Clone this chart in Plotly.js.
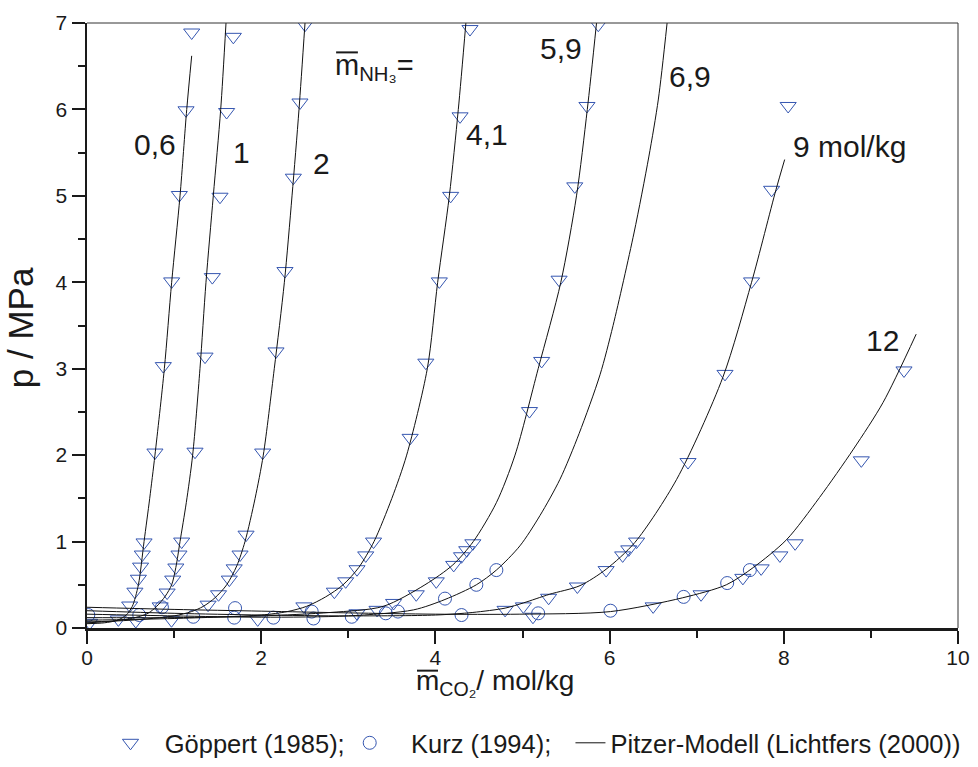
<!DOCTYPE html>
<html>
<head>
<meta charset="utf-8">
<script src="https://cdn.plot.ly/plotly-3.0.1.min.js"></script>
<style>html,body{margin:0;padding:0;background:#fff}#chart{width:978px;height:767px}</style>
</head>
<body>
<div id="chart"></div>
<script>
// ---- Göppert (1985) measurements, per NH3 molality ----
const gX06 = [0.03, 0.36, 0.56, 0.49, 0.55, 0.59, 0.615, 0.635, 0.655, 0.78, 0.876, 0.972, 1.06, 1.137, 1.202];
const gP06 = [0.06, 0.10, 0.08, 0.26, 0.42, 0.57, 0.71, 0.85, 0.99, 2.03, 3.03, 4.01, 5.01, 5.99, 6.89];
const gX1 = [0.97, 0.84, 0.92, 0.984, 1.02, 1.056, 1.087, 1.24, 1.355, 1.439, 1.527, 1.603, 1.68];
const gP1 = [0.09, 0.25, 0.41, 0.56, 0.70, 0.85, 1.0, 2.04, 3.14, 4.06, 4.99, 5.97, 6.84];
const gX2 = [1.96, 1.39, 1.51, 1.634, 1.69, 1.757, 1.826, 2.017, 2.17, 2.273, 2.369, 2.445, 2.503];
const gP2 = [0.10, 0.27, 0.39, 0.56, 0.69, 0.85, 1.08, 2.03, 3.2, 4.13, 5.21, 6.08, 6.98];
const gX41 = [2.49, 2.84, 2.97, 3.10, 3.20, 3.29, 3.71, 3.89, 4.045, 4.175, 4.283, 4.397];
const gP41 = [0.25, 0.42, 0.54, 0.68, 0.84, 1.0, 2.2, 3.07, 4.01, 5.0, 5.92, 6.93];
const gX59 = [3.10, 3.33, 3.52, 3.78, 4.01, 4.21, 4.30, 4.36, 4.43, 5.08, 5.22, 5.42, 5.60, 5.74, 5.87];
const gP59 = [0.17, 0.21, 0.29, 0.39, 0.54, 0.73, 0.83, 0.90, 0.98, 2.51, 3.09, 4.03, 5.11, 6.04, 6.98];
const gX9 = [4.80, 5.01, 5.12, 5.30, 5.63, 5.96, 6.15, 6.22, 6.31, 6.90, 7.325, 7.63, 7.86, 8.05];
const gP9 = [0.21, 0.25, 0.13, 0.35, 0.48, 0.67, 0.84, 0.91, 1.0, 1.92, 2.94, 4.01, 5.07, 6.04];
const gX12 = [6.50, 7.05, 7.53, 7.74, 7.955, 8.13, 8.89, 9.38];
const gP12 = [0.25, 0.39, 0.58, 0.69, 0.84, 0.98, 1.94, 2.98];

// ---- Kurz (1994) measurements ----
const kX = [0.015, 0.60, 0.86, 1.22, 1.70, 1.69, 2.14, 2.58, 2.60, 3.04, 3.43, 3.57, 4.30, 4.11, 4.47, 4.70, 5.18, 6.01, 6.85, 7.35, 7.61];
const kP = [0.15, 0.15, 0.24, 0.13, 0.23, 0.12, 0.12, 0.19, 0.11, 0.13, 0.17, 0.19, 0.15, 0.34, 0.50, 0.67, 0.17, 0.20, 0.36, 0.52, 0.67];

// ---- Pitzer-Modell (Lichtfers 2000) curves ----
const mX06 = [0, 0.2, 0.35, 0.45, 0.52, 0.59, 0.655, 0.72, 0.78, 0.888, 0.972, 1.068, 1.145, 1.202];
const mP06 = [0.05, 0.06, 0.09, 0.15, 0.25, 0.5, 1.0, 1.5, 2.0, 3.0, 4.0, 5.0, 6.0, 6.62];
const mX1 = [0, 0.3, 0.55, 0.7, 0.8, 0.9, 0.972, 1.02, 1.068, 1.14, 1.213, 1.297, 1.366, 1.45, 1.535, 1.596];
const mP1 = [0.06, 0.08, 0.12, 0.17, 0.25, 0.37, 0.5, 0.7, 1.0, 1.45, 2.0, 3.0, 4.0, 5.0, 6.0, 7.0];
const mX2 = [0, 0.5, 1.0, 1.2, 1.335, 1.47, 1.604, 1.72, 1.814, 1.93, 2.024, 2.15, 2.266, 2.354, 2.434, 2.503];
const mP2 = [0.07, 0.09, 0.14, 0.19, 0.25, 0.35, 0.5, 0.72, 1.0, 1.5, 2.0, 3.0, 4.0, 5.0, 6.0, 7.0];
const mX41 = [0, 1.0, 2.0, 2.3, 2.52, 2.74, 2.94, 3.12, 3.295, 3.5, 3.67, 3.907, 4.026, 4.16, 4.263, 4.35];
const mP41 = [0.09, 0.11, 0.15, 0.19, 0.25, 0.36, 0.5, 0.7, 1.0, 1.5, 2.0, 3.0, 4.0, 5.0, 6.0, 7.0];
const mX59 = [0, 1.0, 2.0, 2.8, 3.4, 3.88, 4.2, 4.435, 4.7, 4.914, 5.18, 5.44, 5.62, 5.744, 5.85];
const mP59 = [0.12, 0.12, 0.14, 0.18, 0.25, 0.5, 0.73, 1.0, 1.45, 2.0, 3.0, 4.0, 5.0, 6.0, 7.0];
const mX69 = [0, 1, 2, 3, 3.75, 4.11, 4.47, 4.70, 4.97, 5.2, 5.43, 5.65, 5.89, 6.04, 6.28, 6.45, 6.56, 6.66];
const mP69 = [0.16, 0.14, 0.125, 0.14, 0.21, 0.33, 0.5, 0.67, 0.95, 1.3, 1.72, 2.25, 2.93, 3.5, 4.57, 5.45, 6.12, 7.0];
const mX9 = [0, 1, 2, 3, 4, 4.43, 4.80, 5.01, 5.31, 5.66, 5.96, 6.29, 6.77, 7.3, 7.63, 7.91, 8.01];
const mP9 = [0.2, 0.17, 0.15, 0.14, 0.15, 0.18, 0.23, 0.29, 0.39, 0.49, 0.68, 0.99, 1.72, 2.9, 4.0, 5.07, 5.42];
const mX12 = [0, 1, 2, 3, 4, 4.97, 6.01, 6.84, 7.34, 7.65, 8.03, 8.41, 8.8, 9.14, 9.52];
const mP12 = [0.24, 0.215, 0.195, 0.175, 0.16, 0.16, 0.19, 0.35, 0.50, 0.70, 1.02, 1.51, 2.07, 2.61, 3.40];

// ---- text ----
const curveLabels = ['0,6', '1', '2', '4,1', '5,9', '6,9', '9 mol/kg', '12'];
const labelX = [0.78, 1.77, 2.69, 4.59, 5.44, 6.92, 8.75, 9.13];
const labelP = [5.6, 5.5, 5.38, 5.71, 6.70, 6.38, 5.57, 3.33];
const xTicks = [0, 2, 4, 6, 8, 10];
const yTicks = [0, 1, 2, 3, 4, 5, 6, 7];
const legendNames = ['\u00a0\u00a0Göppert (1985);', '\u00a0\u00a0\u00a0Kurz (1994);\u00a0\u00a0', 'Pitzer-Modell (Lichtfers (2000))'];
const xTitle = 'm<sub>CO\u2082</sub>/ mol/kg';
const yTitle = 'p / MPa';
const nh3Label = 'm<sub>NH\u2083</sub>=';

const BLUE = '#3556b0';
const INK = '#1a1a1a';
const FONT = 'Liberation Sans, Arial, sans-serif';

const gX = [].concat(gX06, gX1, gX2, gX41, gX59, gX9, gX12);
const gP = [].concat(gP06, gP1, gP2, gP41, gP59, gP9, gP12);

const modelX = [mX06, mX1, mX2, mX41, mX59, mX69, mX9, mX12];
const modelP = [mP06, mP1, mP2, mP41, mP59, mP69, mP9, mP12];

const traces = [];
traces.push({
  x: gX, y: gP, type: 'scatter', mode: 'markers', name: legendNames[0],
  marker: {symbol: 'triangle-down-open', size: 14, color: BLUE, line: {width: 1, color: BLUE}}
});
traces.push({
  x: kX, y: kP, type: 'scatter', mode: 'markers', name: legendNames[1],
  marker: {symbol: 'circle-open', size: 13, color: BLUE, line: {width: 1, color: BLUE}}
});
modelX.forEach((xs, i) => {
  traces.push({
    x: xs, y: modelP[i], type: 'scatter', mode: 'lines', name: legendNames[2],
    showlegend: i === 0, legendgroup: 'pitzer',
    line: {color: '#111', width: 1, shape: 'spline', smoothing: 0.8}
  });
});

const annotations = curveLabels.map((t, i) => ({
  x: labelX[i], y: labelP[i], xref: 'x', yref: 'y', text: t, showarrow: false,
  font: {family: FONT, size: 30, color: INK}, xanchor: 'center', yanchor: 'middle'
}));
annotations.push({
  x: 2.83, y: 6.49, xref: 'x', yref: 'y', showarrow: false, text: nh3Label,
  font: {family: FONT, size: 29, color: INK}, xanchor: 'left', yanchor: 'middle'
});
annotations.push({
  x: 0.375, y: -0.0895, xref: 'paper', yref: 'paper', showarrow: false, text: xTitle,
  font: {family: FONT, size: 28, color: INK}, xanchor: 'left', yanchor: 'middle'
});
annotations.push({
  x: -0.077, y: 0.497, xref: 'paper', yref: 'paper', showarrow: false, text: yTitle, textangle: -90,
  font: {family: FONT, size: 35, color: INK}, xanchor: 'center', yanchor: 'middle'
});

const layout = {
  width: 978, height: 767,
  paper_bgcolor: '#fff', plot_bgcolor: '#fff',
  margin: {l: 87, r: 20, t: 23, b: 139},
  font: {family: FONT, color: INK},
  showlegend: true,
  legend: {orientation: 'h', xref: 'container', yref: 'container', x: 0.113, xanchor: 'left', y: 0.031, yanchor: 'middle',
           font: {family: FONT, size: 25.5, color: INK}, traceorder: 'normal', itemwidth: 30},
  xaxis: {
    range: [0, 10], tickvals: xTicks, ticktext: xTicks.map(String), showgrid: false, zeroline: false,
    automargin: false,
    showline: true, linewidth: 2.5, linecolor: INK,
    ticks: 'outside', ticklen: 13, tickwidth: 2, tickcolor: INK, ticklabelstandoff: -4,
    minor: {dtick: 1, ticks: 'outside', ticklen: 7, tickwidth: 2, tickcolor: INK},
    tickfont: {family: FONT, size: 21, color: INK}
  },
  yaxis: {
    range: [0, 7], tickvals: yTicks, ticktext: yTicks.map(String), showgrid: false, zeroline: false,
    automargin: false,
    showline: true, linewidth: 2.5, linecolor: INK,
    ticks: 'outside', ticklen: 13, tickwidth: 2, tickcolor: INK,
    minor: {dtick: 0.5, ticks: 'outside', ticklen: 7, tickwidth: 2, tickcolor: INK},
    tickfont: {family: FONT, size: 21, color: INK}
  },
  shapes: [
    {type: 'line', xref: 'paper', yref: 'paper', x0: 0, x1: 1, y0: 1, y1: 1, line: {color: '#333', width: 1}},
    {type: 'line', xref: 'paper', yref: 'paper', x0: 1, x1: 1, y0: 0, y1: 1, line: {color: '#333', width: 1}},
    // overline of m in x title
    {type: 'line', xref: 'paper', yref: 'paper', x0: 0.3789, x1: 0.403, y0: -0.0705, y1: -0.0705, line: {color: INK, width: 2}},
    // overline of m in NH3 label
    {type: 'line', xref: 'x', yref: 'y', x0: 2.86, x1: 3.11, y0: 6.66, y1: 6.66, line: {color: INK, width: 2}}
  ],
  annotations: annotations
};

Plotly.newPlot('chart', traces, layout, {displayModeBar: false, staticPlot: true});
</script>
</body>
</html>
